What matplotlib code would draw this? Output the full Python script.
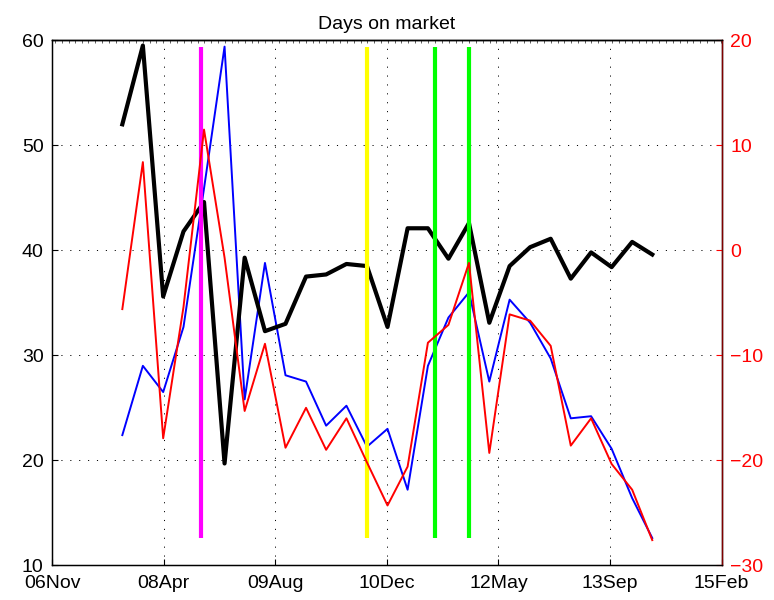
import matplotlib
matplotlib.use("Agg")
import matplotlib.pyplot as plt
import matplotlib.dates as mdates
import pandas as pd
import numpy as np

plt.rcParams['font.family'] = ['Liberation Sans', 'DejaVu Sans']
plt.rcParams['lines.scale_dashes'] = False

# quarterly observations, 2007Q3 .. 2014Q1
dates = pd.date_range('2007-09-30', periods=27, freq='QE')

black_days = [52.0, 59.5, 35.6, 41.8, 44.6, 19.7, 39.3, 32.3, 33.0, 37.5,
              37.7, 38.7, 38.5, 32.7, 42.1, 42.1, 39.2, 42.6, 33.1, 38.5,
              40.3, 41.1, 37.3, 39.8, 38.4, 40.8, 39.6]
blue_days = [22.4, 29.0, 26.5, 32.7, 45.9, 59.4, 25.8, 38.8, 28.1, 27.5,
             23.3, 25.2, 21.3, 23.0, 17.2, 29.0, 33.6, 36.0, 27.5, 35.3,
             33.1, 29.7, 24.0, 24.2, 21.1, 16.4, 12.6]
red_change = [-5.6, 8.4, -17.9, -5.4, 11.5, -0.7, -15.3, -8.9, -18.8, -15.0,
              -19.0, -16.0, -20.2, -24.3, -20.6, -8.8, -7.1, -1.2, -19.3, -6.1,
              -6.7, -9.1, -18.6, -16.0, -20.35, -22.8, -27.6]

# event markers
events = pd.to_datetime(['2008-09-15', '2010-09-30', '2011-08-01', '2012-01-01'])
event_colors = ['#ff00ff', '#ffff00', '#00ff00', '#00ff00']

tick_dates = pd.to_datetime(['2006-11-19', '2008-04-02', '2009-08-15', '2010-12-28',
                             '2012-05-11', '2013-09-23', '2015-02-05'])
tick_labels = ['06Nov', '08Apr', '09Aug', '10Dec', '12May', '13Sep', '15Feb']
left_ticks = [10, 20, 30, 40, 50, 60]
right_ticks = [-30, -20, -10, 0, 10, 20]

fig = plt.figure(figsize=(7.74, 6.0), dpi=100)
ax = fig.add_axes([0.0672, 0.0578, 0.8652, 0.875])

ax.plot(dates, blue_days, color='#0000ff', lw=1.4, zorder=3)
ax.plot(dates, black_days, color='black', lw=3.0, zorder=4)
ax.vlines(events, min(blue_days), max(blue_days), colors=event_colors, lw=3.0, zorder=5)

ax.set_xlim(tick_dates[0], tick_dates[-1])
ax.set_ylim(10, 60)
ax.set_xticks(tick_dates)
ax.set_xticklabels(tick_labels)
ax.set_yticks(left_ticks)
ax.grid(True, color='black', lw=0.7, linestyle=(0, (0.8, 5.6)))
ax.tick_params(direction='in', length=4, width=0.8, labelsize=14, pad=6)
ax.tick_params(axis='x', pad=7)
for s in ax.spines.values():
    s.set_linewidth(1.0)
ax.set_title('Days on market', fontsize=14, pad=8)

ax2 = ax.twinx()
ax2.plot(dates, red_change, color='#ff0000', lw=1.4, zorder=3)
ax2.set_ylim(-30, 20)
ax2.set_yticks(right_ticks)
ax2.tick_params(axis='y', direction='in', length=4, width=0.8, colors='#ff0000',
                labelsize=14, pad=6)
ax2.spines['right'].set_color('#800000')
ax2.spines['right'].set_linewidth(1.0)

# monthly minor ticks along the top edge
top = ax.secondary_xaxis('top')
top.xaxis.set_major_locator(mdates.MonthLocator())
top.tick_params(direction='in', length=2.5, width=0.6, labeltop=False, color='#444444')
top.spines['top'].set_linewidth(1.0)

fig.savefig('out.png', dpi=100)
